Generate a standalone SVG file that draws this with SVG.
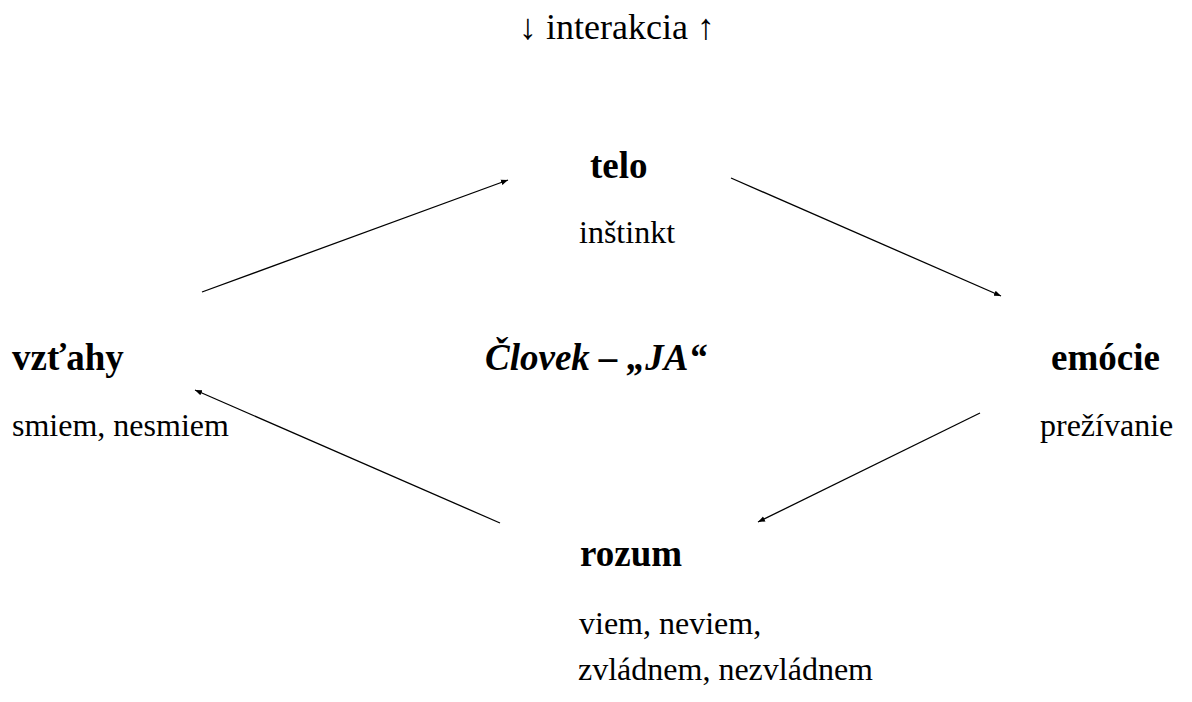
<svg xmlns="http://www.w3.org/2000/svg" width="1192" height="702" viewBox="0 0 1192 702">
<style>
text{font-family:"Times New Roman","Liberation Serif",Tinos,"DejaVu Serif",serif;fill:#000}
.r{font-size:32px}
.b{font-size:37px;font-weight:bold}
.t{font-size:36px}
.bi{font-size:37px;font-weight:bold;font-style:italic}
.c{stroke:#000;stroke-width:1.3;fill:none;marker-end:url(#ah)}
</style>
<defs>
<marker id="ah" viewBox="0 0 10 10" refX="10" refY="5" markerWidth="7" markerHeight="7" markerUnits="userSpaceOnUse" orient="auto">
<path d="M0,1 L10,5 L0,9 Z" fill="#000"/>
</marker>
</defs>
<rect width="1192" height="702" fill="#fff"/>
<g id="title"><text class="t" x="617" y="39" text-anchor="middle">↓ interakcia ↑</text></g>
<g id="telo">
<text class="b" x="590" y="178">telo</text>
<text class="r" x="579" y="243">inštinkt</text>
</g>
<g id="vztahy">
<text class="b" x="12" y="370">vzťahy</text>
<text class="r" x="12" y="436">smiem, nesmiem</text>
</g>
<g id="clovek"><text class="bi" x="485" y="370">Človek – „JA“</text></g>
<g id="emocie">
<text class="b" x="1051" y="370">emócie</text>
<text class="r" x="1040" y="436">prežívanie</text>
</g>
<g id="rozum">
<text class="b" x="580" y="566">rozum</text>
<text class="r" x="579" y="634">viem, neviem,</text>
<text class="r" x="578" y="680">zvládnem, nezvládnem</text>
</g>
<g id="connectors">
<line class="c" x1="202" y1="292" x2="508" y2="180"/>
<line class="c" x1="731" y1="178" x2="1001" y2="296"/>
<line class="c" x1="980" y1="413" x2="758" y2="522"/>
<line class="c" x1="500" y1="523" x2="195" y2="390"/>
</g>
</svg>
